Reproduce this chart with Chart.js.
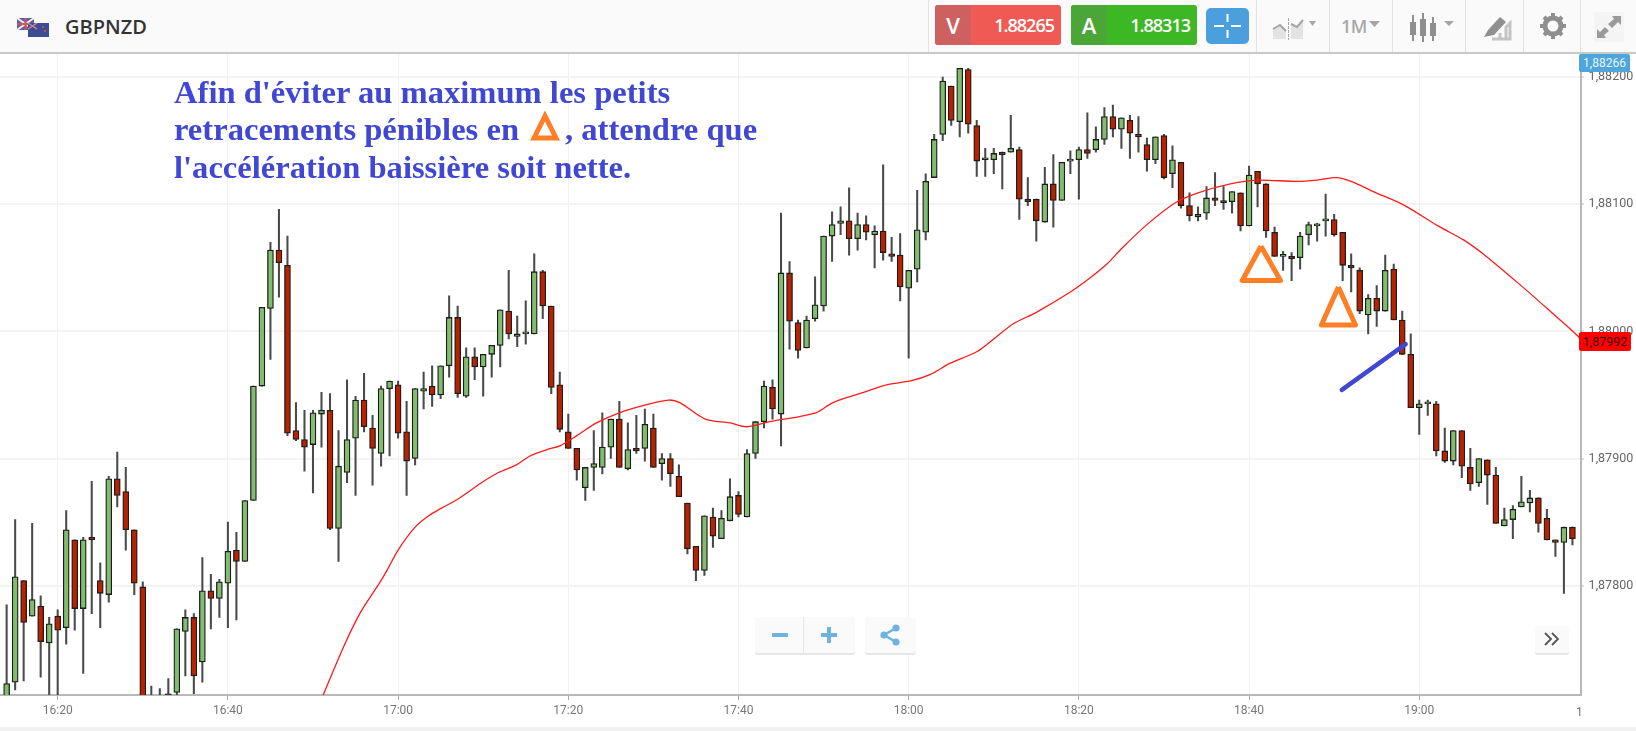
<!DOCTYPE html>
<html lang="fr">
<head>
<meta charset="utf-8">
<title>GBPNZD</title>
<script src="https://cdn.jsdelivr.net/npm/chart.js@4/dist/chart.umd.min.js"></script>
<style>
  html, body { margin: 0; padding: 0; background: #fff; width: 1636px; height: 731px; overflow: hidden; }
  #stage { position: relative; width: 1636px; height: 731px; font-family: "Open Sans", sans-serif; }
  #chart { position: absolute; left: 0; top: 0; }
  .abs { position: absolute; }
  #toolbar { left: 0; top: 0; width: 1636px; height: 52px; background: #fafafa; border-bottom: 2px solid #c9c9c9; }
  #pair { left: 65px; top: 14px; font-size: 20px; font-weight: 600; color: #333; line-height: 26px; }
  .sep { top: 0; width: 1px; height: 52px; background: #e2e2e2; }
  .quote { top: 5px; height: 40px; width: 126px; border-radius: 3px; color: #fff; font-size: 18px; line-height: 40px; overflow: hidden; }
  .quote b { position: absolute; left: 0; top: 0; width: 36px; height: 40px; text-align: center; font-size: 22px; font-weight: 600; }
  .quote span { position: absolute; right: 7px; top: 0; letter-spacing: -1px; font-weight: 600; }
  #sell { left: 935px; background: #f05a55; }
  #sell b { background: #cf6060; }
  #buy { left: 1071px; background: #3cb825; }
  #buy b { background: #4aa636; }
  #cross { left: 1206px; top: 8px; width: 43px; height: 36px; border-radius: 5px; background: #4b9fdd; }
  #oneM { left: 1341px; top: 14px; font-size: 18px; font-weight: 600; color: #a8a8a8; letter-spacing: -0.5px; }
  .note { font-family: "Liberation Serif", serif; font-weight: bold; font-size: 32.6px; line-height: 36px; color: #4047d2; white-space: nowrap; }
  .badge { left: 1579px; width: 51px; text-align: center; font-size: 12px; font-family: Roboto, sans-serif; border-radius: 2px; }
  .btn { background: #fafafa; border-bottom: 2px solid #e6e6e6; border-radius: 3px; color: #6db3e0; text-align: center; }
  #bottomBand { left: 0; top: 727px; width: 1636px; height: 4px; background: #f1f1f1; }
</style>
</head>
<body>
<div id="stage">
  <canvas id="chart" width="1636" height="731"></canvas>

  <div id="toolbar" class="abs"></div>
  <svg class="abs" style="left:17px;top:18px" width="34" height="20" viewBox="0 0 34 20">
    <rect x="0" y="0" width="17" height="12" fill="#5a5fa8"/>
    <path d="M0 0L17 12M17 0L0 12" stroke="#eee" stroke-width="2"/>
    <path d="M8.5 0V12M0 6H17" stroke="#d8505a" stroke-width="2"/>
    <rect x="11" y="5" width="21" height="14" fill="#3d4d94"/>
    <path d="M11 5L20 11M20 5L11 11" stroke="#d8858a" stroke-width="1.5"/>
    <circle cx="26" cy="9" r="1" fill="#e05560"/><circle cx="28" cy="13" r="1" fill="#e05560"/>
  </svg>
  <div id="pair" class="abs">GBPNZD</div>
  <div class="sep abs" style="left:928px"></div>
  <div class="sep abs" style="left:1256px"></div>
  <div class="sep abs" style="left:1329px"></div>
  <div class="sep abs" style="left:1392px"></div>
  <div class="sep abs" style="left:1465px"></div>
  <div class="sep abs" style="left:1523px"></div>
  <div class="sep abs" style="left:1580px"></div>
  <div id="sell" class="quote abs"><b>V</b><span>1.88265</span></div>
  <div id="buy" class="quote abs"><b>A</b><span>1.88313</span></div>
  <div id="cross" class="abs">
    <svg width="43" height="36"><path d="M8 18H18M25 18H35M21.5 6V14M21.5 22V30" stroke="#fff" stroke-width="2"/></svg>
  </div>
  <svg class="abs" style="left:1270px;top:12px" width="50" height="30">
    <path d="M3 27V17L10 13L16 19V27Z" fill="#e3e3e3"/><path d="M3 17L10 13L16 19" stroke="#a5a5a5" stroke-width="2" fill="none"/>
    <path d="M21 27V12L27 15L33 8V27Z" fill="#e3e3e3"/><path d="M21 12L27 15L33 8" stroke="#a5a5a5" stroke-width="2" fill="none"/>
    <path d="M18.5 6V28" stroke="#a5a5a5" stroke-width="1" stroke-dasharray="3 1"/>
    <path d="M39 9H46L42.5 14Z" fill="#a5a5a5"/>
  </svg>
  <div id="oneM" class="abs">1M</div>
  <svg class="abs" style="left:1368px;top:20px" width="14" height="8"><path d="M1 1H12L6.5 7Z" fill="#a5a5a5"/></svg>
  <svg class="abs" style="left:1408px;top:12px" width="50" height="30">
    <path d="M5 3V29M15 1V30M25 5V29" stroke="#8f8f8f" stroke-width="2"/>
    <rect x="2" y="10" width="6" height="13" fill="#8f8f8f"/><rect x="12" y="7" width="6" height="17" fill="#8f8f8f"/><rect x="22" y="11" width="6" height="13" fill="#8f8f8f"/>
    <path d="M36 9H46L41 14Z" fill="#a5a5a5"/>
  </svg>
  <svg class="abs" style="left:1480px;top:13px" width="34" height="28">
    <path d="M4 24L8 17L20 4L26 9L14 22Z" fill="#8f8f8f"/><path d="M12 26H30V10L26 14V26M20 26V20" stroke="#c4c4c4" stroke-width="3" fill="none"/>
  </svg>
  <svg class="abs" style="left:1539px;top:12px" width="28" height="28" viewBox="0 0 28 28">
    <circle cx="14" cy="14" r="8" fill="none" stroke="#8f8f8f" stroke-width="5"/>
    <path d="M14 1V6M14 22V27M1 14H6M22 14H27M5 5L8.5 8.5M19.5 19.5L23 23M5 23L8.5 19.5M19.5 8.5L23 5" stroke="#8f8f8f" stroke-width="4"/>
  </svg>
  <svg class="abs" style="left:1594px;top:12px" width="30" height="30">
    <rect width="30" height="30" fill="#f4f4f4"/>
    <path d="M18 4H27V13L24 10L18 16L14 12L20 7ZM12 26H3V17L6 20L11 15L15 19L10 23Z" fill="#9a9a9a"/>
  </svg>

  <div class="note abs" style="left:174px;top:74px">Afin d'éviter au maximum les petits</div>
  <div class="note abs" style="left:174px;top:111px">retracements pénibles en</div>
  <svg class="abs" style="left:530px;top:111px" width="32" height="31"><path d="M15 5L4 27H26Z" fill="none" stroke="#ff7f27" stroke-width="5"/></svg>
  <div class="note abs" style="left:565px;top:111px">, attendre que</div>
  <div class="note abs" style="left:174px;top:149px">l'accélération baissière soit nette.</div>

  <div class="badge abs" style="top:54px;height:18px;line-height:18px;background:#4ea6dc;color:#eaf5fc">1,88266</div>
  <div class="badge abs" style="top:332px;height:19px;line-height:19px;background:#ff0000;color:#3a0000;width:52px;font-size:12.5px">1,87992</div>

  <div class="btn abs" style="left:755px;top:617px;width:100px;height:36px"></div>
  <div class="abs" style="left:803px;top:617px;width:1px;height:36px;background:#e6e6e6"></div>
  <div class="abs" style="left:772px;top:633px;width:16px;height:4px;background:#6db3e0"></div>
  <svg class="abs" style="left:820px;top:626px" width="18" height="18"><path d="M9 1V17M1 9H17" stroke="#6db3e0" stroke-width="4"/></svg>
  <div class="btn abs" style="left:865px;top:617px;width:51px;height:36px"></div>
  <svg class="abs" style="left:878px;top:623px" width="24" height="24"><path d="M18 5L6 12L18 19" stroke="#6db3e0" stroke-width="2.5" fill="none"/><circle cx="18" cy="5" r="3.6" fill="#6db3e0"/><circle cx="6" cy="12" r="3.6" fill="#6db3e0"/><circle cx="18" cy="19" r="3.6" fill="#6db3e0"/></svg>
  <div class="btn abs" style="left:1535px;top:626px;width:34px;height:27px"></div>
  <svg class="abs" style="left:1543px;top:631px" width="20" height="16"><path d="M2 2L8 8L2 14M9 2L15 8L9 14" stroke="#555" stroke-width="1.8" fill="none"/></svg>

  <div class="abs" style="left:1576px;top:699px;width:5px;height:20px;overflow:hidden;font:12px Roboto,sans-serif;line-height:13px;padding-top:7px;color:#777">1</div>
  <div id="bottomBand" class="abs"></div>
</div>

<script>
// Candle times are minutes since midnight, one candle per minute from 16:14
const firstMinute = 974;

const opens = [
  1.87710,1.87724,1.87804,1.87776,1.87784,1.87755,1.87776,1.87767,1.87836,1.87782,
  1.87838,1.87804,1.87793,1.87884,1.87874,1.87844,1.87799,1.87705,1.87705,1.87705,
  1.87716,1.87764,1.87775,1.87740,1.87796,1.87790,1.87802,1.87828,1.87819,1.87867,
  1.87957,1.88018,1.88064,1.88052,1.87922,1.87915,1.87911,1.87935,1.87938,1.87845,
  1.87889,1.87916,1.87946,1.87924,1.87904,1.87955,1.87958,1.87921,1.87900,1.87953,
  1.87957,1.87950,1.87973,1.88011,1.87949,1.87980,1.87972,1.87982,1.87989,1.88016,
  1.87996,1.87998,1.87998,1.88047,1.88020,1.87958,1.87921,1.87908,1.87877,1.87893,
  1.87893,1.87909,1.87931,1.87892,1.87908,1.87908,1.87924,1.87896,1.87900,1.87886,
  1.87865,1.87831,1.87812,1.87854,1.87837,1.87851,1.87871,1.87854,1.87904,1.87929,
  1.87956,1.87935,1.88046,1.88007,1.87987,1.88010,1.88020,1.88075,1.88085,1.88087,
  1.88073,1.88084,1.88076,1.88079,1.88061,1.88060,1.88034,1.88049,1.88078,1.88121,
  1.88155,1.88193,1.88165,1.88206,1.88162,1.88135,1.88135,1.88141,1.88141,1.88143,
  1.88104,1.88104,1.88086,1.88116,1.88103,1.88134,1.88135,1.88143,1.88143,1.88151,
  1.88169,1.88159,1.88166,1.88155,1.88147,1.88135,1.88154,1.88124,1.88133,1.88099,
  1.88090,1.88093,1.88105,1.88103,1.88102,1.88109,1.88083,1.88126,1.88116,1.88078,
  1.88059,1.88059,1.88058,1.88076,1.88083,1.88087,1.88088,1.88078,1.88052,1.88048,
  1.88013,1.88026,1.88016,1.88049,1.88009,1.87982,1.87940,1.87943,1.87943,1.87906,
  1.87898,1.87922,1.87893,1.87881,1.87899,1.87887,1.87847,1.87852,1.87862,1.87865,
  1.87869,1.87853,1.87836,1.87834,1.87846
];
const highs = [
  1.87785,1.87852,1.87804,1.87849,1.87792,1.87775,1.87781,1.87859,1.87836,1.87838,
  1.87882,1.87818,1.87886,1.87905,1.87893,1.87844,1.87803,1.87721,1.87719,1.87727,
  1.87766,1.87781,1.87778,1.87822,1.87809,1.87805,1.87850,1.87842,1.87867,1.87957,
  1.88019,1.88070,1.88096,1.88075,1.87944,1.87938,1.87938,1.87952,1.87951,1.87922,
  1.87962,1.87949,1.87967,1.87934,1.87957,1.87961,1.87961,1.87945,1.87955,1.87968,
  1.87973,1.87973,1.88028,1.88020,1.87987,1.87987,1.87982,1.87989,1.88017,1.88048,
  1.88012,1.88024,1.88061,1.88048,1.88020,1.87968,1.87935,1.87908,1.87893,1.87922,
  1.87936,1.87931,1.87945,1.87928,1.87934,1.87939,1.87935,1.87904,1.87904,1.87895,
  1.87865,1.87831,1.87855,1.87861,1.87859,1.87884,1.87874,1.87907,1.87929,1.87961,
  1.87962,1.88093,1.88055,1.88009,1.88012,1.88043,1.88075,1.88094,1.88098,1.88113,
  1.88093,1.88091,1.88083,1.88131,1.88074,1.88077,1.88048,1.88111,1.88124,1.88155,
  1.88200,1.88193,1.88207,1.88207,1.88166,1.88144,1.88144,1.88141,1.88170,1.88145,
  1.88121,1.88104,1.88129,1.88139,1.88133,1.88142,1.88145,1.88172,1.88161,1.88176,
  1.88178,1.88168,1.88170,1.88169,1.88152,1.88153,1.88155,1.88146,1.88133,1.88109,
  1.88098,1.88114,1.88125,1.88114,1.88110,1.88109,1.88130,1.88126,1.88116,1.88082,
  1.88063,1.88062,1.88078,1.88086,1.88085,1.88108,1.88092,1.88078,1.88061,1.88050,
  1.88029,1.88036,1.88060,1.88053,1.88016,1.87998,1.87946,1.87946,1.87945,1.87924,
  1.87922,1.87922,1.87908,1.87900,1.87899,1.87893,1.87861,1.87863,1.87886,1.87875,
  1.87869,1.87860,1.87836,1.87846,1.87846
];
const lows = [
  1.87705,1.87718,1.87725,1.87776,1.87728,1.87712,1.87710,1.87754,1.87765,1.87731,
  1.87778,1.87767,1.87787,1.87862,1.87828,1.87793,1.87695,1.87695,1.87695,1.87700,
  1.87714,1.87729,1.87715,1.87724,1.87766,1.87775,1.87767,1.87773,1.87819,1.87867,
  1.87957,1.87978,1.88027,1.87918,1.87914,1.87890,1.87873,1.87909,1.87844,1.87819,
  1.87881,1.87871,1.87921,1.87879,1.87894,1.87902,1.87916,1.87871,1.87895,1.87939,
  1.87941,1.87947,1.87964,1.87948,1.87948,1.87962,1.87949,1.87964,1.87972,1.87994,
  1.87988,1.87990,1.87998,1.88010,1.87951,1.87921,1.87908,1.87883,1.87867,1.87875,
  1.87888,1.87900,1.87893,1.87891,1.87904,1.87898,1.87893,1.87883,1.87878,1.87870,
  1.87825,1.87804,1.87808,1.87830,1.87837,1.87851,1.87854,1.87854,1.87900,1.87924,
  1.87931,1.87910,1.87986,1.87979,1.87987,1.88008,1.88016,1.88055,1.88076,1.88060,
  1.88064,1.88072,1.88050,1.88056,1.88055,1.88024,1.87979,1.88039,1.88072,1.88121,
  1.88150,1.88162,1.88153,1.88156,1.88122,1.88122,1.88124,1.88112,1.88141,1.88088,
  1.88099,1.88071,1.88086,1.88082,1.88103,1.88124,1.88104,1.88136,1.88141,1.88147,
  1.88153,1.88144,1.88136,1.88141,1.88126,1.88132,1.88120,1.88113,1.88097,1.88087,
  1.88087,1.88088,1.88099,1.88096,1.88093,1.88079,1.88083,1.88098,1.88074,1.88059,
  1.88048,1.88040,1.88049,1.88068,1.88071,1.88075,1.88075,1.88040,1.88031,1.88014,
  1.87998,1.88004,1.88016,1.88009,1.87982,1.87940,1.87919,1.87934,1.87902,1.87897,
  1.87895,1.87885,1.87875,1.87878,1.87864,1.87849,1.87847,1.87837,1.87862,1.87858,
  1.87842,1.87836,1.87823,1.87794,1.87832
];
const closes = [
  1.87723,1.87807,1.87771,1.87789,1.87756,1.87770,1.87765,1.87844,1.87782,1.87836,
  1.87836,1.87794,1.87884,1.87871,1.87844,1.87802,1.87700,1.87700,1.87700,1.87715,
  1.87766,1.87775,1.87729,1.87796,1.87790,1.87803,1.87827,1.87819,1.87867,1.87957,
  1.88019,1.88064,1.88054,1.87920,1.87915,1.87909,1.87936,1.87938,1.87845,1.87894,
  1.87915,1.87946,1.87925,1.87908,1.87955,1.87961,1.87920,1.87898,1.87955,1.87955,
  1.87950,1.87973,1.88011,1.87951,1.87980,1.87972,1.87982,1.87989,1.88017,1.87998,
  1.87998,1.87998,1.88047,1.88020,1.87956,1.87923,1.87908,1.87891,1.87893,1.87896,
  1.87909,1.87931,1.87893,1.87907,1.87906,1.87927,1.87893,1.87900,1.87888,1.87870,
  1.87829,1.87812,1.87855,1.87839,1.87853,1.87870,1.87856,1.87904,1.87929,1.87957,
  1.87939,1.88046,1.88008,1.87985,1.88009,1.88021,1.88075,1.88084,1.88087,1.88073,
  1.88084,1.88078,1.88079,1.88062,1.88059,1.88035,1.88048,1.88080,1.88118,1.88151,
  1.88197,1.88166,1.88207,1.88163,1.88134,1.88135,1.88140,1.88139,1.88144,1.88104,
  1.88102,1.88087,1.88116,1.88103,1.88133,1.88135,1.88143,1.88140,1.88151,1.88169,
  1.88159,1.88168,1.88156,1.88153,1.88135,1.88153,1.88121,1.88135,1.88099,1.88091,
  1.88092,1.88105,1.88103,1.88101,1.88110,1.88083,1.88123,1.88116,1.88079,1.88059,
  1.88059,1.88057,1.88075,1.88084,1.88083,1.88088,1.88076,1.88052,1.88050,1.88016,
  1.88026,1.88016,1.88048,1.88009,1.87982,1.87940,1.87943,1.87943,1.87906,1.87898,
  1.87922,1.87894,1.87880,1.87900,1.87887,1.87849,1.87852,1.87860,1.87866,1.87869,
  1.87849,1.87836,1.87834,1.87846,1.87837
];

// Moving average
const maTimes = [
  1011.2,1013.6,1015.5,1017.9,1018.7,1020,1022,1023.6,1025.1,1027,
  1029.8,1031.8,1033.9,1035.5,1037.5,1039,1041,1043.3,1046,1049,
  1051.8,1053.1,1056.1,1059,1061,1063.7,1069.1,1071.1,1074.7,1077.4,
  1080.2,1082.5,1084.9,1088,1090,1092.3,1095,1099,1101.3,1103.3,
  1105,1108,1111.3,1114,1117.8,1120.9,1125.6,1128,1130.3,1132,
  1134.6,1138.3,1142.2,1145.2,1147.7,1151.8,1155.2,1158.7,1159
];
const maValues = [
  1.87714,1.87752,1.87778,1.87803,1.87812,1.87828,1.87846,1.87855,1.87861,1.87868,
  1.87881,1.87889,1.87895,1.87902,1.87907,1.87910,1.87918,1.87928,1.87936,1.87942,
  1.87946,1.87944,1.87931,1.87928,1.87925,1.87929,1.87936,1.87944,1.87952,1.87958,
  1.87961,1.87966,1.87975,1.87984,1.87994,1.88006,1.88015,1.88031,1.88042,1.88053,
  1.88065,1.88084,1.88101,1.88109,1.88116,1.88119,1.88118,1.88119,1.88121,1.88118,
  1.88110,1.88099,1.88083,1.88072,1.88060,1.88037,1.88017,1.87996,1.87992
];

// Hand-drawn marks on the picture, in time and price
const triangleOneTimes = [1121.4,1119.2,1123.7,1121.4];
const triangleOnePrices = [1.88067,1.88040,1.88040,1.88067];
const triangleTwoTimes = [1130.5,1128.5,1132.5,1130.5];
const triangleTwoPrices = [1.88035,1.88005,1.88005,1.88035];
const arrowTimes = [1130.9,1138.4];
const arrowPrices = [1.87954,1.87990];

const timeMin = 973.22;
const timeMax = 1158.96;
const priceMin = 1.87714;
const priceMax = 1.88219;

const times = opens.map((_, i) => firstMinute + i);
const isUp = opens.map((o, i) => closes[i] >= o);

function pairUp(xs, ys) {
  return xs.map((x, i) => ({ x: x, y: ys[i] }));
}

function formatMinute(m) {
  const h = Math.floor(m / 60);
  return `${h}:${String(m % 60).padStart(2, "0")}`;
}

new Chart(document.getElementById("chart"), {
  type: "bar",
  data: {
    datasets: [
      // Wicks
      {
        data: times.map((t, i) => ({ x: t, y: [lows[i], highs[i]] })),
        backgroundColor: "#4a4a4a",
        barThickness: 1.4,
        grouped: false,
        order: 5,
      },
      // Bodies
      {
        data: times.map((t, i) => ({ x: t, y: [opens[i], closes[i]] })),
        backgroundColor: isUp.map((up) => (up ? "#82bc6f" : "#b92200")),
        borderColor: "#1c1c1c",
        borderWidth: 1.3,
        borderSkipped: false,
        barThickness: 6,
        minBarLength: 2,
        grouped: false,
        order: 4,
      },
      {
        type: "line",
        data: pairUp(maTimes, maValues),
        borderColor: "#ff1a1a",
        borderWidth: 1.3,
        pointRadius: 0,
        tension: 0.3,
        order: 3,
      },
      {
        type: "line",
        data: pairUp(triangleOneTimes, triangleOnePrices),
        borderColor: "#ff7f27",
        borderWidth: 5,
        borderJoinStyle: "round",
        pointRadius: 0,
        order: 2,
      },
      {
        type: "line",
        data: pairUp(triangleTwoTimes, triangleTwoPrices),
        borderColor: "#ff7f27",
        borderWidth: 5,
        borderJoinStyle: "round",
        pointRadius: 0,
        order: 2,
      },
      {
        type: "line",
        data: pairUp(arrowTimes, arrowPrices),
        borderColor: "#4047d2",
        borderWidth: 4.5,
        borderCapStyle: "round",
        pointRadius: 0,
        order: 1,
      },
    ],
  },
  options: {
    responsive: false,
    animation: false,
    layout: { padding: { top: 53 } },
    plugins: { legend: { display: false }, tooltip: { enabled: false } },
    scales: {
      x: {
        type: "linear",
        offset: false,
        min: timeMin,
        max: timeMax,
        afterFit: (scale) => { scale.height = 36; },
        grid: { offset: false, color: "#f0f0f0", tickColor: "#aaa", tickLength: 5 },
        border: { color: "#b8b8b8", width: 2 },
        ticks: {
          stepSize: 20,
          includeBounds: false,
          maxRotation: 0,
          padding: 4,
          color: "#777",
          font: { family: "Roboto", size: 12 },
          callback: (v) => formatMinute(v),
        },
      },
      y: {
        type: "linear",
        position: "right",
        min: priceMin,
        max: priceMax,
        afterFit: (scale) => { scale.width = 55.4; },
        grid: { color: "#f3f3f3", lineWidth: 2, tickColor: "#aaa", tickLength: 3, tickWidth: 1 },
        border: { color: "#b8b8b8", width: 2 },
        ticks: {
          stepSize: 0.001,
          includeBounds: false,
          padding: 5,
          color: "#666",
          font: { family: "Roboto", size: 12.5 },
          callback: (v) => v.toFixed(5).replace(".", ","),
        },
      },
    },
  },
});
</script>
</body>
</html>
